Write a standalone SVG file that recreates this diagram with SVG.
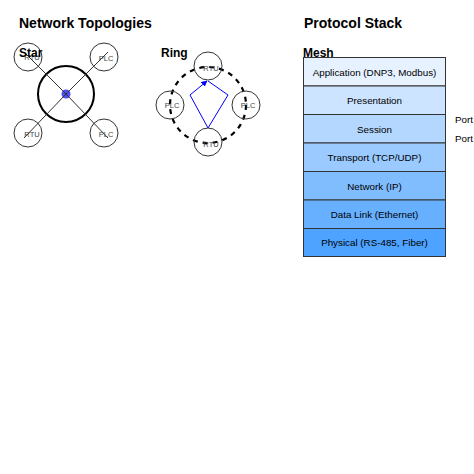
<svg xmlns="http://www.w3.org/2000/svg" width="474" height="474" viewBox="0 0 474 474">
<defs>
<style>
.title{font-family:"Liberation Sans",Arial,sans-serif;font-weight:bold;font-size:14px;fill:#000}
.sub{font-family:"Liberation Sans",Arial,sans-serif;font-weight:bold;font-size:12px;fill:#000}
.node{fill:none;stroke:#333;stroke-width:1}
.nl{font-family:"Liberation Sans",Arial,sans-serif;font-size:7.5px;fill:#444;text-anchor:middle}
.layer{stroke:#333;stroke-width:1}
.ll{font-family:"Liberation Sans",Arial,sans-serif;font-size:9.8px;fill:#000;text-anchor:middle}
.port{font-family:"Liberation Sans",Arial,sans-serif;font-size:9.8px;fill:#000}
.link{stroke:#333;stroke-width:1}
</style>
<marker id="arr" viewBox="0 0 10 10" refX="9" refY="5" markerWidth="6" markerHeight="6" orient="auto">
<path d="M0,0 L10,5 L0,10 z" fill="#0000ff"/>
</marker>
</defs>
<rect width="474" height="474" fill="#fff"/>
<text class="title" x="19" y="28">Network Topologies</text>
<text class="title" x="304" y="28">Protocol Stack</text>

<g id="star-hub">
<circle cx="66" cy="94" r="28" fill="none" stroke="#000" stroke-width="2"/>
<circle cx="66" cy="94" r="4.5" fill="#2222ee" fill-opacity="0.8"/>
</g>

<g id="connectors">
<line class="link" x1="66" y1="94" x2="24" y2="52"/>
<line class="link" x1="66" y1="94" x2="108" y2="52"/>
<line class="link" x1="66" y1="94" x2="24" y2="138"/>
<line class="link" x1="66" y1="94" x2="108" y2="138"/>
<circle cx="208" cy="105" r="38" fill="none" stroke="#000" stroke-width="2.2" stroke-dasharray="5,5"/>
<polyline points="208,81 228,95 208,128 190,95 207,81" fill="none" stroke="#0000ff" stroke-width="1" marker-end="url(#arr)"/>
</g>

<g id="star-rtu1"><circle class="node" cx="28" cy="57" r="14"/><text class="nl" x="32" y="60">RTU</text></g>
<g id="star-plc1"><circle class="node" cx="104" cy="57" r="14"/><text class="nl" x="106" y="61">PLC</text></g>
<g id="star-rtu2"><circle class="node" cx="28" cy="133" r="14"/><text class="nl" x="32" y="137">RTU</text></g>
<g id="star-plc2"><circle class="node" cx="104" cy="133" r="14"/><text class="nl" x="106" y="137">PLC</text></g>
<text class="sub" x="19" y="57">Star</text>

<text class="sub" x="161" y="57">Ring</text>
<g id="ring-rtu1"><circle class="node" cx="208" cy="66" r="14"/><text class="nl" x="211" y="71">RTU</text></g>
<g id="ring-plc1"><circle class="node" cx="170" cy="105" r="14"/><text class="nl" x="172" y="108">PLC</text></g>
<g id="ring-plc2"><circle class="node" cx="246" cy="105" r="14"/><text class="nl" x="248" y="108">PLC</text></g>
<g id="ring-rtu2"><circle class="node" cx="208" cy="142" r="14"/><text class="nl" x="211" y="147">RTU</text></g>

<text class="sub" x="303" y="57">Mesh</text>
<g id="stack">
<g id="l7"><rect class="layer" x="303.5" y="57.5" width="142" height="28.5" fill="#e6f2ff"/><text class="ll" x="374.5" y="75.5">Application (DNP3, Modbus)</text></g>
<g id="l6"><rect class="layer" x="303.5" y="86" width="142" height="28.5" fill="#cce4ff"/><text class="ll" x="374.5" y="104">Presentation</text></g>
<g id="l5"><rect class="layer" x="303.5" y="114.5" width="142" height="28.5" fill="#b3d7ff"/><text class="ll" x="374.5" y="132.5">Session</text></g>
<g id="l4"><rect class="layer" x="303.5" y="143" width="142" height="28.5" fill="#9acaff"/><text class="ll" x="374.5" y="161">Transport (TCP/UDP)</text></g>
<g id="l3"><rect class="layer" x="303.5" y="171.5" width="142" height="28.5" fill="#80bdff"/><text class="ll" x="374.5" y="189.5">Network (IP)</text></g>
<g id="l2"><rect class="layer" x="303.5" y="200" width="142" height="28.5" fill="#66b0ff"/><text class="ll" x="374.5" y="218">Data Link (Ethernet)</text></g>
<g id="l1"><rect class="layer" x="303.5" y="228.5" width="142" height="28" fill="#4da3ff"/><text class="ll" x="374.5" y="246">Physical (RS-485, Fiber)</text></g>
</g>
<text class="port" x="455" y="123">Port</text>
<text class="port" x="455" y="142">Port</text>
</svg>
